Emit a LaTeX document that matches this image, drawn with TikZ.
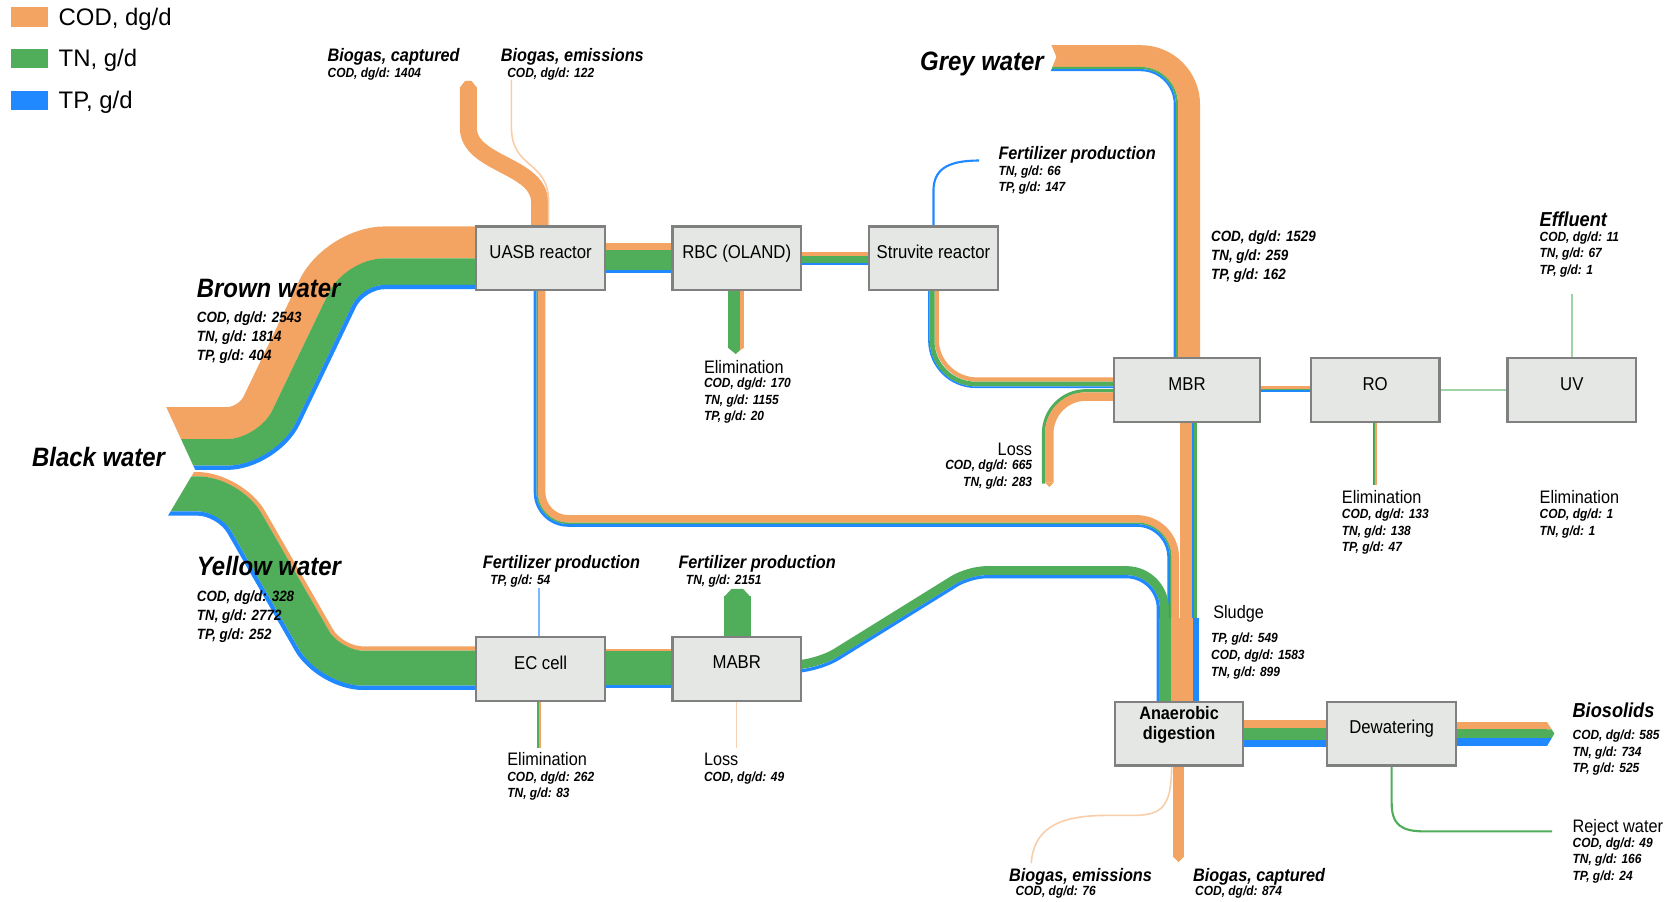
\documentclass[tikz,border=0pt]{standalone}
\usepackage{fontspec}
\setmainfont{Liberation Sans}[FakeStretch=0.9]
\newfontfamily\keyfont{Liberation Sans}
\usepackage{tikz}
\usetikzlibrary{backgrounds}
\definecolor{CODorange}{RGB}{243,164,98}
\definecolor{TNgreen}{RGB}{80,174,90}
\definecolor{TPblue}{RGB}{32,137,255}
\definecolor{boxgrey}{RGB}{228,231,228}
\definecolor{boxedge}{RGB}{128,128,128}
\tikzset{every node/.style={inner sep=0pt}}

\begin{document}
\begin{tikzpicture}[
    x=1pt, y=-1pt,
    unitbox/.style={
        draw=boxedge,
        line width=2pt,
        fill=boxgrey,
        minimum width=121pt,
        minimum height=60pt,
        align=center,
        text depth=12pt,
        font=\fontsize{17.5}{20}\selectfont
    },
    codflow/.style={draw=CODorange, line width=#1},
    tnflow/.style={draw=TNgreen, line width=#1},
    tpflow/.style={draw=TPblue, line width=#1},
    faint/.style={draw=#1, line width=1.5pt},
    legendtext/.style={anchor=base west, font=\keyfont\fontsize{22.5}{26}\selectfont},
    water/.style={anchor=base west, font=\fontsize{25}{30}\selectfont\bfseries\itshape},
    outhead/.style={anchor=base west, font=\fontsize{17}{20}\selectfont\bfseries\itshape},
    endhead/.style={anchor=base west, font=\fontsize{19}{22}\selectfont\bfseries\itshape},
    plainlbl/.style={anchor=base west, font=\fontsize{17}{20}\selectfont},
    stat/.style={anchor=north west, align=left, font=\fontsize{12.5}{15.5}\selectfont\bfseries\itshape},
    bigstat/.style={anchor=north west, align=left, font=\fontsize{14}{18}\selectfont\bfseries\itshape}
]
\useasboundingbox (0,0) rectangle (1568,848);

\node[unitbox] (uasb) at (508.5,243) {UASB reactor};
\node[unitbox] (rbc) at (693,243) {RBC (OLAND)};
\node[unitbox] (struvite) at (878,243) {Struvite reactor};
\node[unitbox, minimum width=137pt] (mbr) at (1116.5,367) {MBR};
\node[unitbox] (ro) at (1293.5,367) {RO};
\node[unitbox] (uv) at (1478.5,367) {UV};
\node[unitbox] (ec) at (508.5,629) {EC cell};
\node[unitbox] (mabr) at (693,629) {MABR};
\node[unitbox, text depth=20pt, font=\fontsize{17}{18}\selectfont\bfseries] (ad) at (1109,690) {Anaerobic\\digestion};
\node[unitbox] (dew) at (1309,690) {Dewatering};

\begin{pgfonlayer}{background}
\draw[codflow=30] (150,398) [rounded corners=20pt] -- (233.7,398) [rounded corners=46.4pt] -- (315.3,228) -- (uasb |- 0,228);
\draw[tnflow=25] (150,425.5) [rounded corners=37.3pt] -- (251,425.5) [rounded corners=29.1pt] -- (332.6,255.5) -- (uasb |- 0,255.5);
\draw[tpflow=4] (150,440) [rounded corners=46.4pt] -- (260.1,440) [rounded corners=20pt] -- (341.7,270) -- (uasb |- 0,270);

\draw[codflow=4] (150,446) [rounded corners=41.5pt] -- (227.1,446) [rounded corners=20pt] -- (321.2,610) -- (ec |- 0,610);
\draw[tnflow=33] (150,464.5) [rounded corners=30.8pt] -- (216.4,464.5) [rounded corners=30.6pt] -- (310.6,628.5) -- (ec |- 0,628.5);
\draw[tpflow=4] (150,483) [rounded corners=20pt] -- (205.6,483) [rounded corners=41.4pt] -- (299.8,647) -- (ec |- 0,647);
\fill[white] (140,365) -- (148,365) -- (183.5,442) -- (146,505) -- (140,505) -- cycle;

\draw[codflow=6] (uasb |- 0,232) -- (rbc |- 0,232);
\draw[tnflow=19] (uasb |- 0,244.5) -- (rbc |- 0,244.5);
\draw[tpflow=3] (uasb |- 0,255.5) -- (rbc |- 0,255.5);

\draw[codflow=4] (rbc |- 0,239) -- (struvite |- 0,239);
\draw[tnflow=6] (rbc |- 0,244) -- (struvite |- 0,244);
\draw[tpflow=2] (rbc |- 0,248) -- (struvite |- 0,248);

\draw[tnflow=11.5] (rbc -| 690.3,0) -- (690.3,327);
\draw[codflow=4] (rbc -| 698,0) -- (698,327);
\fill[TNgreen] (684.6,327) -- (692,333) -- (696,329.5) -- (696,327) -- cycle;
\fill[CODorange] (696,327) -- (696,329.5) -- (700,327) -- cycle;

\draw[tpflow=2] (struvite.north) -- (878,180) .. controls (878,160) and (890,151) .. (921,151);

\draw[codflow=4, rounded corners=38pt] (struvite -| 881,0) -- (881,357) -- (mbr |- 0,357);
\draw[tnflow=4.5, rounded corners=41pt] (struvite -| 876.75,0) -- (876.75,361.25) -- (mbr |- 0,361.25);
\draw[tpflow=1.5, rounded corners=44pt] (struvite -| 873.75,0) -- (873.75,364.25) -- (mbr |- 0,364.25);

\draw[codflow=20.5, rounded corners=45.5pt] (985,52.75) -- (1118.5,52.75) -- (mbr -| 1118.5,0);
\draw[tnflow=2, rounded corners=34pt] (985,64) -- (1107,64) -- (mbr -| 1107,0);
\draw[tpflow=2, rounded corners=32pt] (985,66) -- (1105,66) -- (mbr -| 1105,0);
\fill[white] (980,38) -- (987,38) -- (993.5,53.5) -- (987,70) -- (980,70) -- cycle;

\draw[codflow=7] (uasb -| 509.5,0) [rounded corners=25pt] -- (509.5,488) [rounded corners=36.25pt] -- (1105.5,488) -- (ad -| 1105.5,0);
\draw[tnflow=1.5] (uasb -| 505.25,0) [rounded corners=29.25pt] -- (505.25,492.25) [rounded corners=32pt] -- (1101.25,492.25) -- (ad -| 1101.25,0);
\draw[tpflow=2.5] (uasb -| 503.25,0) [rounded corners=31.25pt] -- (503.25,494.25) [rounded corners=30pt] -- (1099.25,494.25) -- (ad -| 1099.25,0);

\draw[tnflow=8.5] (mabr |- 0,625.5) [rounded corners=22pt] -- (768,625.5) [rounded corners=16.7pt] -- (911,536.75) [rounded corners=35.75pt] -- (1095.25,536.75) -- (ad -| 1095.25,0);
\draw[tpflow=3] (mabr |- 0,631.5) [rounded corners=23pt] -- (769.1,631.5) [rounded corners=15pt] -- (912.7,542.5) [rounded corners=30pt] -- (1089.5,542.5) -- (ad -| 1089.5,0);

\draw[codflow=11] (mbr -| 1115.5,0) -- (1115.5,581);
\draw[tpflow=2.5] (mbr -| 1122.25,0) -- (1122.25,581);
\draw[tnflow=2.5] (mbr -| 1124.75,0) -- (1124.75,581);
\draw[tnflow=11] (1095.5,581) -- (ad -| 1095.5,0);
\draw[codflow=21] (1111.5,581) -- (ad -| 1111.5,0);
\draw[tpflow=6] (1125,581) -- (ad -| 1125,0);

\draw[tnflow=3, rounded corners=40pt] (mbr |- 0,367.5) -- (981.5,367.5) -- (981.5,455);
\draw[codflow=8, rounded corners=34.5pt] (mbr |- 0,373) -- (987,373) -- (987,454);
\fill[CODorange] (983,454) -- (987,458) -- (991,454) -- cycle;

\draw[codflow=3] (mbr |- 0,364.5) -- (ro |- 0,364.5);
\draw[tnflow=1] (mbr |- 0,366.5) -- (ro |- 0,366.5);
\draw[tpflow=2] (mbr |- 0,368) -- (ro |- 0,368);
\draw[faint=TNgreen!55] (ro |- 0,367) -- (uv |- 0,367);
\draw[tpflow=1.5] (ro -| 1291.75,0) -- (1291.75,456);
\draw[tnflow=1] (ro -| 1293,0) -- (1293,456);
\draw[codflow=1.5] (ro -| 1294.25,0) -- (1294.25,456);
\draw[faint=TNgreen!55] (uv.north) -- (1478.5,277);

\draw[codflow=8] (ad |- 0,681) -- (dew |- 0,681);
\draw[tnflow=11] (ad |- 0,690.5) -- (dew |- 0,690.5);
\draw[tpflow=7] (ad |- 0,699.5) -- (dew |- 0,699.5);
\draw[codflow=7] (dew |- 0,682.5) -- (1455,682.5);
\draw[tnflow=8] (dew |- 0,690) -- (1455,690);
\draw[tpflow=8] (dew |- 0,698) -- (1455,698);
\fill[CODorange] (1455,679) -- (1459.5,686) -- (1455,686) -- cycle;
\fill[TNgreen] (1455,686) -- (1459.5,686) -- (1462,690) -- (1459.7,694) -- (1455,694) -- cycle;
\fill[TPblue] (1455,694) -- (1459.7,694) -- (1455,702) -- cycle;
\draw[tnflow=2] (dew.south) -- (1309,755) .. controls (1309,776) and (1318,782) .. (1340,782) -- (1460,782);

\draw[codflow=10] (ad -| 1108.5,0) -- (1108.5,806);
\fill[CODorange] (1103.5,806) -- (1108.5,811) -- (1113.5,806) -- cycle;
\draw[faint=CODorange!55] (ad.south -| 1102,0) .. controls (1102,760) and (1092,767) .. (1065,767) -- (1040,767) .. controls (992,767) and (972,782) .. (970,812);

\draw[codflow=16] (uasb -| 507.5,0) -- (507.5,190) .. controls (507.5,155) and (440.5,155) .. (440.5,120) -- (440.5,82);
\fill[CODorange] (432.5,82.5) -- (437.5,76) -- (443.5,76) -- (448.5,82.5) -- cycle;
\draw[faint=CODorange!55] (uasb -| 516,0) -- (516,190) .. controls (516,150) and (481,160) .. (481,119) -- (481,75);

\draw[faint=TPblue!60, line width=1pt] (ec -| 507,0) -- (507,553);
\draw[tnflow=1.5] (ec -| 506.3,0) -- (506.3,704);
\draw[codflow=1.5] (ec -| 507.8,0) -- (507.8,704);
\draw[codflow=2] (ec |- 0,611) -- (mabr |- 0,611);
\draw[tnflow=32] (ec |- 0,628) -- (mabr |- 0,628);
\draw[tpflow=3] (ec |- 0,645.5) -- (mabr |- 0,645.5);
\draw[tnflow=25] (mabr -| 693.5,0) -- (693.5,561);
\fill[TNgreen] (681,561.5) -- (688,554) -- (699,554) -- (706,561.5) -- cycle;
\draw[faint=CODorange!50, line width=1pt] (mabr) -- (693,704);
\end{pgfonlayer}

\fill[CODorange] (10,7) rectangle (45,25);
\fill[TNgreen] (10,46) rectangle (45,64);
\fill[TPblue] (10,86) rectangle (45,103);
\node[legendtext] (keyCOD) at (55,24) {COD, dg/d};
\node[legendtext] (keyTN) at (55,63) {TN, g/d};
\node[legendtext] (keyTP) at (55,102) {TP, g/d};

\node[water] (lblBlack) at (30,439) {Black water};
\node[water] (lblBrown) at (185,280) {Brown water};
\node[water] (lblYellow) at (185,541) {Yellow water};
\node[water, anchor=base east] (lblGrey) at (982,66) {Grey water};
\node[bigstat] (statBrown) at (185,293) {COD, dg/d: 2543\\TN, g/d: 1814\\TP, g/d: 404};
\node[bigstat] (statYellow) at (185,555) {COD, dg/d: 328\\TN, g/d: 2772\\TP, g/d: 252};
\node[bigstat] (statGrey) at (1139,217) {COD, dg/d: 1529\\TN, g/d: 259\\TP, g/d: 162};

\node[outhead] (capU) at (308,58) {Biogas, captured};
\node[stat] (capUval) at (308,63.5) {COD, dg/d: 1404};
\node[outhead] (emiU) at (471,58) {Biogas, emissions};
\node[stat] (emiUval) at (477,63.5) {COD, dg/d: 122};
\node[outhead] (fertS) at (939,150) {Fertilizer production};
\node[stat] (fertSval) at (939,155.5) {TN, g/d: 66\\TP, g/d: 147};
\node[outhead] (fertE) at (454,535) {Fertilizer production};
\node[stat] (fertEval) at (461,540.5) {TP, g/d: 54};
\node[outhead] (fertM) at (638,535) {Fertilizer production};
\node[stat] (fertMval) at (645,540.5) {TN, g/d: 2151};
\node[outhead] (emiA) at (949,829) {Biogas, emissions};
\node[stat] (emiAval) at (955,833.5) {COD, dg/d: 76};
\node[outhead] (capA) at (1122,829) {Biogas, captured};
\node[stat] (capAval) at (1124,833.5) {COD, dg/d: 874};
\node[endhead] (effluent) at (1448,213) {Effluent};
\node[stat] (effluentval) at (1448,217.5) {COD, dg/d: 11\\TN, g/d: 67\\TP, g/d: 1};
\node[endhead] (biosolids) at (1479,675) {Biosolids};
\node[stat] (biosolidsval) at (1479,686.5) {COD, dg/d: 585\\TN, g/d: 734\\TP, g/d: 525};

\node[plainlbl] (elimR) at (662,351) {Elimination};
\node[stat] (elimRval) at (662,355.5) {COD, dg/d: 170\\TN, g/d: 1155\\TP, g/d: 20};
\node[plainlbl, anchor=base east] (lossM) at (971,428) {Loss};
\node[stat, anchor=north east, align=right] (lossMval) at (971,432.5) {COD, dg/d: 665\\TN, g/d: 283};
\node[plainlbl] (elimRO) at (1262,474) {Elimination};
\node[stat] (elimROval) at (1262,478.5) {COD, dg/d: 133\\TN, g/d: 138\\TP, g/d: 47};
\node[plainlbl] (elimUV) at (1448,474) {Elimination};
\node[stat] (elimUVval) at (1448,478.5) {COD, dg/d: 1\\TN, g/d: 1};
\node[plainlbl] (sludge) at (1141,582) {Sludge};
\node[stat, font=\fontsize{12.5}{16}\selectfont\bfseries\itshape] (sludgeval) at (1139,595.5) {TP, g/d: 549\\COD, dg/d: 1583\\TN, g/d: 899};
\node[plainlbl] (elimE) at (477,720) {Elimination};
\node[stat] (elimEval) at (477,725.5) {COD, dg/d: 262\\TN, g/d: 83};
\node[plainlbl] (lossMA) at (662,720) {Loss};
\node[stat] (lossMAval) at (662,725.5) {COD, dg/d: 49};
\node[plainlbl] (reject) at (1479,783) {Reject water};
\node[stat] (rejectval) at (1479,787.5) {COD, dg/d: 49\\TN, g/d: 166\\TP, g/d: 24};
\end{tikzpicture}
\end{document}
